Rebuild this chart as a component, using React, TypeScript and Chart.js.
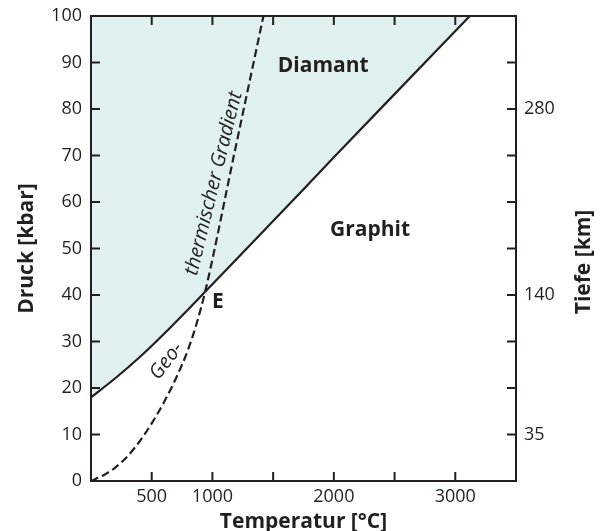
import React, { useEffect, useRef } from "react";
import { Chart, registerables } from "chart.js";

Chart.register(...registerables);

// Graphit/Diamant phase boundary (temperature °C, pressure kbar)
const boundaryTemp = [0, 200, 400, 600, 800, 940, 1500, 2000, 2500, 3120];
const boundaryPress = [18, 22.1, 26.6, 31.6, 36.9, 40.7, 55.9, 69.6, 83.2, 100];

// Geothermal gradient
const geothermTemp = [0, 100, 200, 300, 400, 500, 600, 700, 800, 870, 940, 1180, 1420];
const geothermPress = [0, 1.2, 2.9, 5.3, 8.5, 12.4, 16.9, 22.1, 28.3, 33.9, 40.7, 70.4, 100];

// Axes
const tempTicks = [500, 1000, 1500, 2000, 2500, 3000];
const tempTickLabels = ["500", "1000", "", "2000", "", "3000"];
const pressTicks = [10, 20, 30, 40, 50, 60, 70, 80, 90];
const depthTickPressures = [10, 40, 80];
const depthTickLabels = ["35", "140", "280"];

const INK = "#231f20";
const FILL = "#e0eff0";
const FONT = "'Open Sans', 'DejaVu Sans', sans-serif";

type Note = { text: string; t: number; p: number; rot: number; style: string };
const notes: Note[] = [
  { text: "Diamant", t: 1912, p: 89.2, rot: 0, style: "bold 21px" },
  { text: "Graphit", t: 2298, p: 54.0, rot: 0, style: "bold 21px" },
  { text: "E", t: 1044, p: 38.5, rot: 0, style: "bold 21px" },
  { text: "thermischer Gradient", t: 1011, p: 64.0, rot: -76.2, style: "italic 20px" },
  { text: "Geo-", t: 622, p: 25.8, rot: -52.7, style: "italic 20px" },
];

const framePlugin = {
  id: "frameAndNotes",
  afterDatasetsDraw(chart: any) {
    const { ctx, chartArea: a, scales } = chart;
    const xs = scales.x;
    const ys = scales.y;
    ctx.save();
    ctx.strokeStyle = INK;
    ctx.lineWidth = 2;
    ctx.strokeRect(a.left, a.top, a.right - a.left, a.bottom - a.top);
    ctx.beginPath();
    for (const v of tempTicks) {
      const x = xs.getPixelForValue(v);
      ctx.moveTo(x, a.bottom);
      ctx.lineTo(x, a.bottom - 9);
      ctx.moveTo(x, a.top);
      ctx.lineTo(x, a.top + 9);
    }
    for (const v of pressTicks) {
      const y = ys.getPixelForValue(v);
      ctx.moveTo(a.left, y);
      ctx.lineTo(a.left + 9, y);
      ctx.moveTo(a.right, y);
      ctx.lineTo(a.right - 9, y);
    }
    ctx.stroke();

    ctx.fillStyle = INK;
    ctx.textAlign = "center";
    ctx.textBaseline = "middle";
    for (const n of notes) {
      const x = xs.getPixelForValue(n.t);
      const y = ys.getPixelForValue(n.p);
      ctx.save();
      ctx.translate(x, y);
      ctx.rotate((n.rot * Math.PI) / 180);
      ctx.font = `${n.style} ${FONT}`;
      ctx.fillText(n.text, 0, 0);
      ctx.restore();
    }

    // axis titles
    ctx.font = `bold 21px ${FONT}`;
    ctx.textBaseline = "alphabetic";
    ctx.textAlign = "center";
    ctx.fillText("Temperatur [°C]", (a.left + a.right) / 2, a.bottom + 47);
    ctx.save();
    ctx.translate(a.left - 58, (a.top + a.bottom) / 2);
    ctx.rotate(-Math.PI / 2);
    ctx.fillText("Druck [kbar]", 0, 0);
    ctx.restore();
    ctx.save();
    ctx.translate(a.right + 74, (a.top + a.bottom) / 2 + 13.5);
    ctx.rotate(-Math.PI / 2);
    ctx.fillText("Tiefe [km]", 0, 0);
    ctx.restore();
    ctx.restore();
  },
};

export default function App() {
  const ref = useRef<HTMLCanvasElement>(null);
  useEffect(() => {
    const canvas = ref.current;
    if (!canvas) return;
    const tickFont = { family: FONT, size: 18 };
    const hiddenGrid = (len: number) => ({
      display: true,
      drawOnChartArea: false,
      drawTicks: true,
      tickLength: len,
      color: "rgba(0,0,0,0)",
    });
    const chart = new Chart(canvas, {
      type: "scatter",
      data: {
        datasets: [
          {
            label: "Graphit/Diamant",
            data: boundaryTemp.map((t, i) => ({ x: t, y: boundaryPress[i] })),
            showLine: true,
            borderColor: INK,
            borderWidth: 2.2,
            pointRadius: 0,
            backgroundColor: FILL,
            fill: "end",
            cubicInterpolationMode: "monotone",
          },
          {
            label: "Geothermischer Gradient",
            data: geothermTemp.map((t, i) => ({ x: t, y: geothermPress[i] })),
            showLine: true,
            borderColor: INK,
            borderWidth: 2.2,
            borderDash: [8, 4],
            pointRadius: 0,
            fill: false,
            cubicInterpolationMode: "monotone",
          },
        ],
      },
      options: {
        animation: false,
        responsive: false,
        maintainAspectRatio: false,
        layout: { padding: { top: 16, left: 0, right: 0, bottom: 0 } },
        plugins: {
          legend: { display: false },
          tooltip: { enabled: false },
          filler: { drawTime: "beforeDatasetsDraw" },
        },
        scales: {
          x: {
            type: "linear",
            position: "bottom",
            min: 0,
            max: 3500,
            border: { display: false },
            grid: hiddenGrid(5),
            ticks: {
              stepSize: 500,
              autoSkip: false,
              maxRotation: 0,
              padding: 0,
              color: INK,
              font: tickFont,
              callback: (v: any) => {
                const i = tempTicks.indexOf(Number(v));
                return i >= 0 ? tempTickLabels[i] : "";
              },
            },
            afterFit: (s: any) => {
              s.height = 50;
            },
          },
          y: {
            type: "linear",
            position: "left",
            min: 0,
            max: 100,
            border: { display: false },
            grid: hiddenGrid(9),
            ticks: { stepSize: 10, padding: 0, color: INK, font: tickFont },
            afterFit: (s: any) => {
              s.width = 91;
            },
          },
          y2: {
            type: "linear",
            position: "right",
            min: 0,
            max: 100,
            border: { display: false },
            grid: hiddenGrid(8),
            ticks: {
              stepSize: 10,
              padding: 0,
              color: INK,
              font: tickFont,
              callback: (v: any) => {
                const i = depthTickPressures.indexOf(Number(v));
                return i >= 0 ? depthTickLabels[i] : "";
              },
            },
            afterFit: (s: any) => {
              s.width = 84;
            },
          },
        },
      },
      plugins: [framePlugin],
    } as any);
    return () => chart.destroy();
  }, []);
  return (
    <div style={{ position: "absolute", left: 0, top: 0, width: 600, height: 531, background: "#fff" }}>
      <canvas ref={ref} width={600} height={531} style={{ display: "block", width: 600, height: 531 }} />
    </div>
  );
}
